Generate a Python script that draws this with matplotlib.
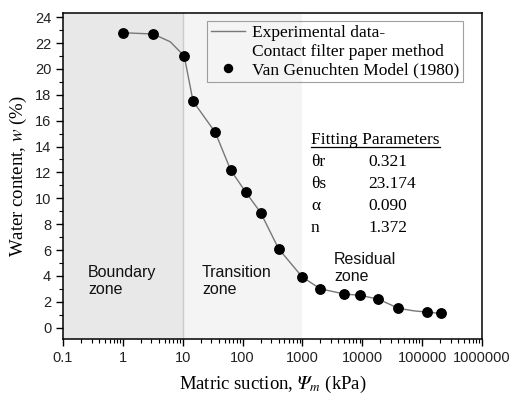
import numpy as np
import matplotlib
matplotlib.use("Agg")
import matplotlib.pyplot as plt
from matplotlib.lines import Line2D
from matplotlib.ticker import FixedLocator, FixedFormatter, LogLocator, MultipleLocator, NullFormatter

# measured points (dots)
suction = [1.0, 3.2, 10.6, 14.9, 35, 63, 112, 200, 400, 1000, 2000, 5000, 9200, 18600, 40000, 122000, 206000]
water = [22.8, 22.7, 21.0, 17.5, 15.1, 12.2, 10.5, 8.9, 6.1, 3.9, 3.0, 2.6, 2.5, 2.2, 1.5, 1.2, 1.1]

# curve
curve_x = [1.0, 3.2, 6.2, 10.6, 14.9, 35, 63, 112, 200, 400, 1000, 2000, 5000, 9200, 18600, 40000, 72000, 122000, 206000]
curve_y = [22.8, 22.7, 22.1, 21.0, 17.5, 15.1, 12.2, 10.5, 8.9, 6.1, 3.9, 3.0, 2.6, 2.5, 2.2, 1.5, 1.3, 1.2, 1.1]

xticks = [0.1, 1, 10, 100, 1000, 10000, 100000, 1000000]
xticklabels = ["0.1", "1", "10", "100", "1000", "10000", "100000", "1000000"]

zone_edges = [0.1, 10, 1000]
params = [("\u03b8r", "0.321"), ("\u03b8s", "23.174"), ("\u03b1", "0.090"), ("n", "1.372")]

serif = 'Liberation Serif'
sans = 'Liberation Sans'
plt.rcParams['mathtext.fontset'] = 'stix'

fig = plt.figure(figsize=(5.15, 4.0), dpi=100)
ax = fig.add_axes([0.1223, 0.1518, 0.8136, 0.8149])

# zone shading
ax.axvspan(zone_edges[0], zone_edges[1], color='#e8e8e8', lw=0, zorder=0)
ax.axvspan(zone_edges[1], zone_edges[2], color='#f4f4f4', lw=0, zorder=0)
ax.axvline(zone_edges[1], color='#cccccc', lw=1, zorder=0.5)

line, = ax.plot(curve_x, curve_y, color='#777777', lw=1, zorder=2)
dots, = ax.plot(suction, water, 'o', color='black', ms=6.8, zorder=3)

ax.set_xscale('log')
ax.set_xlim(0.1, 1000000)
ax.set_ylim(-0.9, 24.3)
ax.xaxis.set_major_locator(FixedLocator(xticks))
ax.xaxis.set_major_formatter(FixedFormatter(xticklabels))
ax.xaxis.set_minor_locator(LogLocator(base=10, subs=np.arange(2, 10)))
ax.xaxis.set_minor_formatter(NullFormatter())
ax.yaxis.set_major_locator(MultipleLocator(2))
ax.yaxis.set_minor_locator(MultipleLocator(1))

ax.tick_params(which='both', direction='out', top=False, right=False, color='black')
ax.tick_params(which='major', length=5, width=1, labelsize=10.5)
ax.tick_params(which='minor', length=3, width=0.8)
for lab in ax.get_xticklabels() + ax.get_yticklabels():
    lab.set_fontfamily(sans)
    lab.set_color('#222222')
for sp in ax.spines.values():
    sp.set_linewidth(1.1)

# italic capital psi (math italic code point)
ax.set_xlabel("Matric suction, $\U0001D6F9_{m}$ (kPa)", fontfamily=serif, fontsize=13.5, labelpad=6)
ax.set_ylabel(r"Water content, $w$ (%)", fontfamily=serif, fontsize=13.5, labelpad=4)

# legend
blank = Line2D([], [], linestyle='none')
leg = ax.legend([line, blank, dots],
                ["Experimental data-", "Contact filter paper method", "Van Genuchten Model (1980)"],
                loc='upper left', bbox_to_anchor=(0.344, 0.976), borderaxespad=0,
                prop={'family': serif, 'size': 12.5}, frameon=True, fancybox=False,
                handlelength=2.0, handletextpad=0.4, labelspacing=0.15, borderpad=0.2,
                markerscale=0.85)
leg.get_frame().set_facecolor('none')
leg.get_frame().set_edgecolor('#888888')
leg.get_frame().set_linewidth(0.8)

# zone labels
zkw = dict(transform=ax.transAxes, fontfamily=sans, fontsize=11.5, va='center', ha='left', color='#111111')
ax.text(0.06, 0.179, "Boundary\nzone", **zkw)
ax.text(0.332, 0.179, "Transition\nzone", **zkw)
ax.text(0.647, 0.219, "Residual\nzone", **zkw)

# fitting parameters
title = ax.text(0.592, 0.611, "Fitting Parameters", transform=ax.transAxes,
                fontfamily=serif, fontsize=12.5, va='center', ha='left')
rows_y = [0.544, 0.476, 0.409, 0.341]
for (name, val), yy in zip(params, rows_y):
    ax.text(0.592, yy, name, transform=ax.transAxes, fontfamily=serif, fontsize=12.5, va='center')
    ax.text(0.728, yy, val, transform=ax.transAxes, fontfamily=serif, fontsize=12.5, va='center')

fig.canvas.draw()
bb = title.get_window_extent().transformed(ax.transAxes.inverted())
ax.plot([bb.x0, bb.x1], [bb.y0 + 0.004, bb.y0 + 0.004], transform=ax.transAxes,
        color='black', lw=0.9, clip_on=False)

fig.savefig("out.png", dpi=100)
